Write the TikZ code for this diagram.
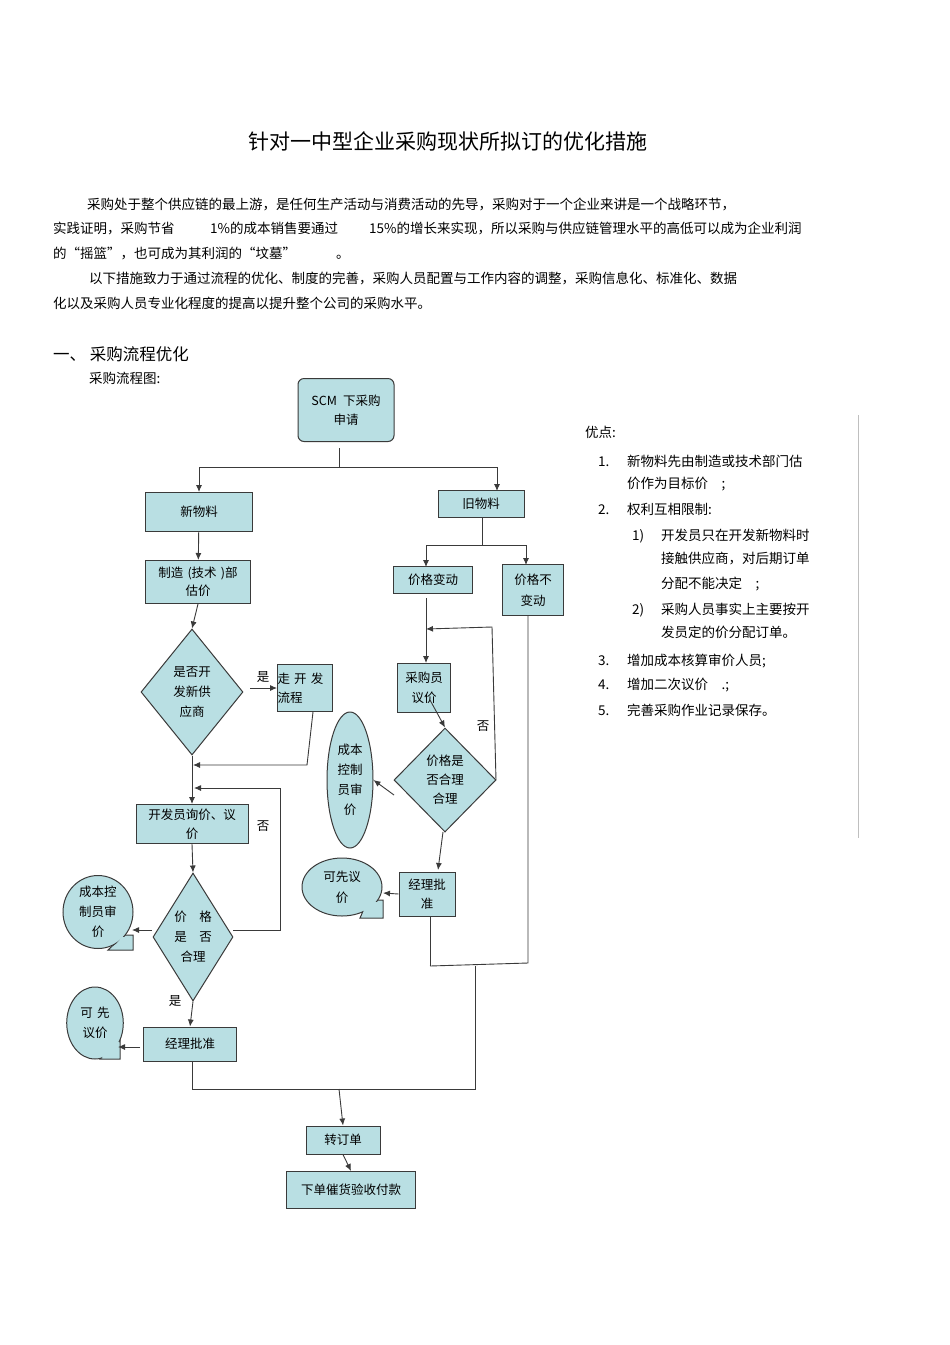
\documentclass[tikz,border=0pt]{standalone}
\usepackage{fontspec}
\setmainfont{Noto Sans CJK SC}
\usetikzlibrary{shapes.geometric,arrows.meta}
\definecolor{fl}{HTML}{B9DFE3}
\definecolor{ed}{HTML}{3A3A3A}
\begin{document}
\begin{tikzpicture}[x=1pt,y=-1pt,
  every node/.style={inner sep=0pt,font=\fontsize{12.5}{15}\selectfont},
  box/.style={draw=ed,fill=fl,line width=1pt,align=center},
  dia/.style={draw=ed,fill=fl,line width=1pt,diamond,align=center,aspect=0.8},
  ell/.style={draw=ed,fill=fl,line width=1pt,ellipse,align=center},
  ln/.style={draw=ed,line width=0.9pt},
  ar/.style={ln,-{Latex[length=7pt,width=6pt]}},
  tx/.style={anchor=base west,font=\fontsize{13.5}{16}\selectfont},
  lb/.style={font=\fontsize{12.5}{15}\selectfont}]
\useasboundingbox (0,0) rectangle (950,1345);
\fill[white] (0,0) rectangle (950,1345);
% title and text
\node[font=\fontsize{21}{24}\selectfont] (title) at (448,141) {针对一中型企业采购现状所拟订的优化措施};
\node[tx] (p1) at (87,209) {采购处于整个供应链的最上游，是任何生产活动与消费活动的先导，采购对于一个企业来讲是一个战略环节，};
\node[tx] (p2a) at (53,233) {实践证明，采购节省};
\node[tx] (p2b) at (210,233) {1\%的成本销售要通过};
\node[tx] (p2c) at (369,233) {15\%的增长来实现，所以采购与供应链管理水平的高低可以成为企业利润};
\node[tx] (p3a) at (53,258) {的“摇篮”，也可成为其利润的“坟墓”};
\node[tx] (p3b) at (336,258) {。};
\node[tx] (p4) at (89,283) {以下措施致力于通过流程的优化、制度的完善，采购人员配置与工作内容的调整，采购信息化、标准化、数据};
\node[tx] (p5) at (53,308) {化以及采购人员专业化程度的提高以提升整个公司的采购水平。};
\node[tx,font=\fontsize{16.5}{19}\selectfont] (h1) at (53,360) {一、 采购流程优化};
\node[tx] (cap) at (89,383) {采购流程图:};
% right list
\node[tx] (yd) at (585,437) {优点:};
\node[tx] (n1) at (598,466) {1.};
\node[tx] (t1) at (627,466) {新物料先由制造或技术部门估};
\node[tx] (t1b) at (627,488) {价作为目标价\quad ;};
\node[tx] (n2) at (598,514) {2.};
\node[tx] (t2) at (627,514) {权利互相限制:};
\node[tx] (m1) at (632,540) {1)};
\node[tx] (s1) at (661,540) {开发员只在开发新物料时};
\node[tx] (s1b) at (661,563) {接触供应商，对后期订单};
\node[tx] (s1c) at (661,588) {分配不能决定\quad ;};
\node[tx] (m2) at (632,614) {2)};
\node[tx] (s2) at (661,614) {采购人员事实上主要按开};
\node[tx] (s2b) at (661,637) {发员定的价分配订单。};
\node[tx] (n3) at (598,665) {3.};
\node[tx] (t3) at (627,665) {增加成本核算审价人员;};
\node[tx] (n4) at (598,689) {4.};
\node[tx] (t4) at (627,689) {增加二次议价\quad .;};
\node[tx] (n5) at (598,715) {5.};
\node[tx] (t5) at (627,715) {完善采购作业记录保存。};
\draw[gray!50,line width=0.6pt] (858,415) -- (858,838);
% flow nodes
\node[box,rounded corners=6pt,minimum width=96,minimum height=63,text width=94] (scm) at (346,410) {SCM\, 下采购\\[4pt]申请};
\node[box,minimum width=107,minimum height=39] (xwl) at (199,512) {新物料};
\node[box,minimum width=86,minimum height=27] (jwl) at (481,504) {旧物料};
\node[box,minimum width=105,minimum height=43,text width=104] (zz) at (198,582) {制造 (技术 )部\\[3pt]估价};
\node[dia,minimum width=102,minimum height=126] (d1) at (192,692) {是否开\\[5pt]发新供\\[5pt]应商};
\node[box,minimum width=55,minimum height=47,text width=55,align=left] (zkf) at (305,688) {走 开 发\\[4pt]流程};
\node[box,minimum width=110,minimum height=39,text width=112] (kfy) at (192,824) {开发员询价、议\\[4pt]价};
\node[dia,minimum width=80,minimum height=128] (d2) at (193,937) {价\quad 格\\[5pt]是\quad 否\\[5pt]合理};
\node[box,minimum width=93,minimum height=34] (jl1) at (190,1044) {经理批准};
\node[box,minimum width=74,minimum height=28] (zdd) at (343,1140) {转订单};
\node[box,minimum width=129,minimum height=37] (xd) at (351,1190) {下单催货验收付款};
\node[box,minimum width=79,minimum height=27] (jgbd) at (433,580) {价格变动};
\node[box,minimum width=61,minimum height=51,text width=60] (jgbbd) at (533,590) {价格不\\[6pt]变动};
\node[box,minimum width=53,minimum height=49,text width=52] (cgy) at (424,688) {采购员\\[5pt]议价};
\node[dia,minimum width=102,minimum height=104] (d3) at (445,780) {价格是\\[4pt]否合理\\[4pt]合理};
\node[ell,minimum width=46,minimum height=136,text width=30] (cb2) at (350,780) {成本\\[5pt]控制\\[5pt]员审\\[5pt]价};
\node[box,minimum width=56,minimum height=44,text width=54] (jl2) at (427,894) {经理批\\[4pt]准};
% callouts
\filldraw[fill=fl,draw=ed,line width=1pt] (368,900) -- (383,900) -- (383,918) -- (360,918) -- cycle;
\node[ell,minimum width=80,minimum height=58,text width=50] (kx2) at (342,887) {可先议\\[6pt]价};
\fill[fl] (366,902) -- (382,902) -- (382,917) -- (362,917) -- cycle;
\filldraw[fill=fl,draw=ed,line width=1pt] (124,935) -- (133,935) -- (133,950) -- (108,950) -- cycle;
\node[ell,minimum width=70,minimum height=72,text width=48] (cb1) at (98,912) {成本控\\[5pt]制员审\\[5pt]价};
\fill[fl] (122,937) -- (132,937) -- (132,949) -- (112,949) -- cycle;
\filldraw[fill=fl,draw=ed,line width=1pt] (112,1040) -- (120,1040) -- (120,1059) -- (100,1059) -- cycle;
\node[ell,minimum width=52,minimum height=72,text width=40] (kx1) at (95,1023) {可\ 先\\[5pt]议价};
\fill[fl] (111,1042) -- (119,1042) -- (119,1058) -- (102,1058) -- cycle;
% connectors
\coordinate (s0) at (339,448); \coordinate (s1) at (339,467);
\coordinate (sl) at (199,467); \coordinate (sr) at (497,467);
\draw[ln] (s0) -- (s1); \draw[ln] (sl) -- (sr);
\draw[ar] (sl) -- (xwl.north); \draw[ar] (sr) -- (497,491);
\draw[ar] (xwl) -- (zz);
\draw[ar] (198,604) -- (d1.north);
\draw[ar] (250,688) -- (zkf.west);
\node[lb] (shi1) at (263,677) {是};
\coordinate (k1) at (313,712); \coordinate (k2) at (307,765); \coordinate (k3) at (193,765);
\draw[ar] (k1) -- (k2) -- (k3);
\draw[ar] (d1.south) -- (kfy.north);
\coordinate (f1) at (233,930); \coordinate (f2) at (280,930); \coordinate (f3) at (280,788); \coordinate (f4) at (194,788);
\draw[ar] (f1) -- (f2) -- (f3) -- (f4);
\node[lb] (fou1) at (263,826) {否};
\draw[ar] (kfy.south) -- (d2.north);
\draw[ar] (152,930) -- (132,930);
\draw[ar] (d2.south) -- (jl1.north);
\node[lb] (shi2) at (175,1001) {是};
\draw[ar] (140,1047) -- (118,1047);
\coordinate (b1) at (192,1061); \coordinate (b2) at (192,1089); \coordinate (b3) at (475,1089); \coordinate (b4) at (475,966);
\draw[ln] (b1) -- (b2) -- (b3) -- (b4);
\coordinate (c1) at (430,966); \coordinate (c2) at (528,963); \coordinate (c0) at (528,616);
\draw[ln] (c1) -- (c2) -- (c0);
\draw[ln] (430,916) -- (c1);
\draw[ar] (339,1089) -- (zdd.north);
\draw[ar] (zdd.south) -- (xd.north);
% right branch
\coordinate (r0) at (482,518); \coordinate (r1) at (482,545);
\coordinate (rl) at (426,545); \coordinate (rr) at (526,545);
\draw[ln] (r0) -- (r1); \draw[ln] (rl) -- (rr);
\draw[ar] (rl) -- (426,567); \draw[ar] (rr) -- (526,565);
\draw[ar] (426,598) -- (426,663);
\coordinate (g1) at (496,780); \coordinate (g2) at (492,627); \coordinate (g3) at (426,629);
\draw[ar] (g1) -- (g2) -- (g3);
\node[lb] (fou2) at (483,726) {否};
\draw[ar] (430,700) -- (d3.north);
\draw[ar] (394,795) -- (cb2.east);
\draw[ar] (443,832) -- (438,870);
\draw[ar] (jl2.west) -- (383,893);
\end{tikzpicture}
\end{document}
